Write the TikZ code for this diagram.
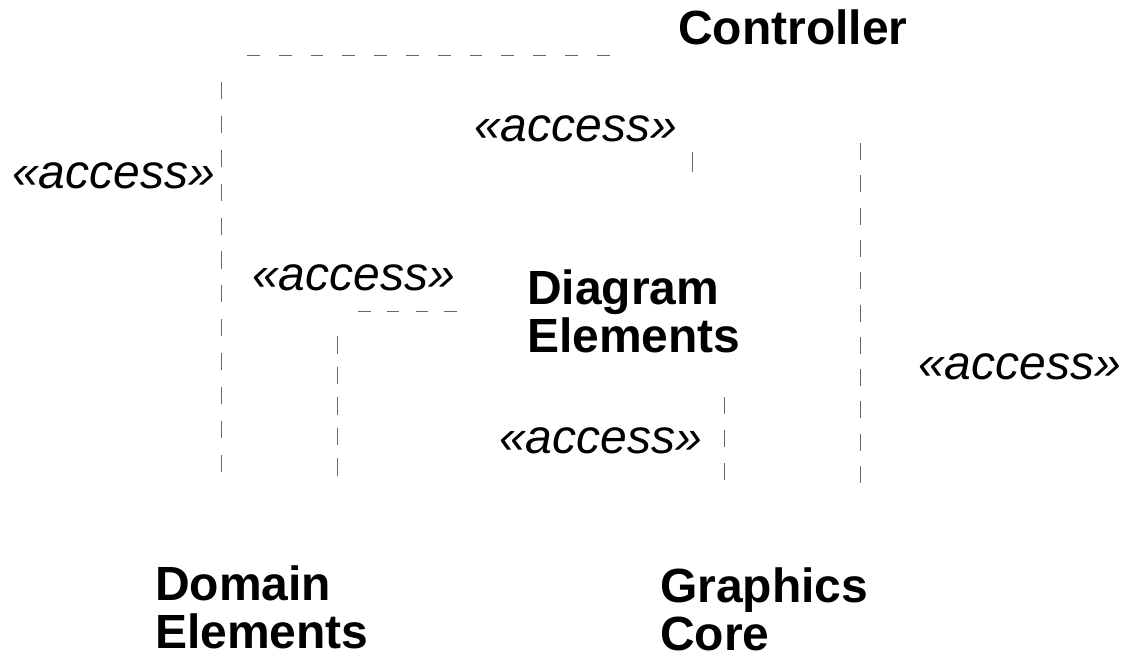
\documentclass[tikz,border=0pt]{standalone}
\usepackage{fontspec}
\setmainfont{Liberation Sans}
\begin{document}
\begin{tikzpicture}[x=1pt,y=-1pt,
  lbl/.style={font=\fontsize{48}{48}\selectfont\itshape, inner sep=0pt, anchor=base west},
  pkg/.style={font=\fontsize{48}{48}\selectfont\bfseries, inner sep=0pt, align=left, anchor=north west, text depth=0pt},
  dep/.style={draw=black!60, line width=0.9pt}]
\useasboundingbox (0,0) rectangle (1126,660);
% package labels
\node[pkg, anchor=base west] (ctrl) at (678,45) {Controller};
\node[pkg] (diag) at (527,270) {Diagram\\Elements};
\node[pkg] (dom) at (155,566) {Domain\\Elements};
\node[pkg] (gfx) at (660,568) {Graphics\\Core};
% stereotype labels
\node[lbl] (a1) at (12,189) {«access»};
\node[lbl] (a2) at (474,142) {«access»};
\node[lbl] (a3) at (252,290) {«access»};
\node[lbl] (a4) at (499,453) {«access»};
\node[lbl] (a5) at (918,379) {«access»};
% connector end points
\coordinate (t1) at (247,55);  \coordinate (t2) at (610,55);
\coordinate (l1) at (221,82);  \coordinate (l2) at (221,475);
\coordinate (s1) at (692,152); \coordinate (s2) at (692,172);
\coordinate (r1) at (860,143); \coordinate (r2) at (860,485);
\coordinate (m1) at (358,311); \coordinate (m2) at (457,311);
\coordinate (v1) at (337,336); \coordinate (v2) at (337,478);
\coordinate (w1) at (724,397); \coordinate (w2) at (724,480);
% dashed dependencies
\draw[dep, dash pattern=on 12.7pt off 19.1pt] (t1) -- (t2);
\draw[dep, dash pattern=on 17pt off 16.9pt] (l1) -- (l2);
\draw[dep] (s1) -- (s2);
\draw[dep, dash pattern=on 17pt off 15.3pt] (r1) -- (r2);
\draw[dep, dash pattern=on 12.5pt off 16.3pt] (m1) -- (m2);
\draw[dep, dash pattern=on 17.5pt off 13pt] (v1) -- (v2);
\draw[dep, dash pattern=on 17pt off 16pt] (w1) -- (w2);
\end{tikzpicture}
\end{document}
